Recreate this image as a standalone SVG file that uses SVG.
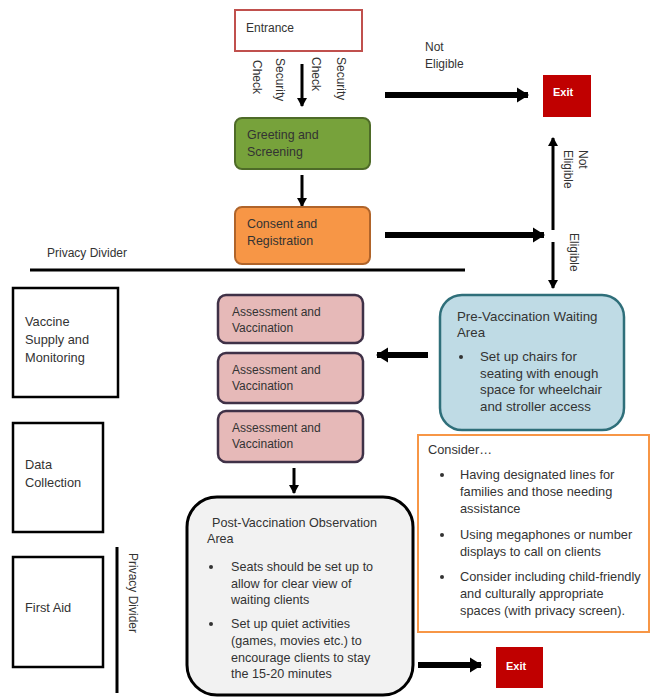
<svg xmlns="http://www.w3.org/2000/svg" width="650" height="698" viewBox="0 0 650 698">
<defs>
<style>
text{font-family:"Liberation Sans",Arial,sans-serif;font-size:12px;fill:#333}
.exitt{fill:#fff;font-size:11px;font-weight:bold}
.thick{stroke:#000;stroke-width:6;fill:none}
.thin{stroke:#000;stroke-width:3;fill:none}
.lb{fill:#fff;stroke:#000;stroke-width:2.5}
.av{fill:#e6b9b8;stroke:#3f3147;stroke-width:2.5}
#pre-vaccination text{font-size:13.3px}
#consider text{font-size:12.8px}
#post-vaccination text{font-size:12.6px}
#vaccine-supply text,#data-collection text,#first-aid text{font-size:12.8px}
#greeting text,#consent text{font-size:12.4px}
</style>
<marker id="hb" markerUnits="userSpaceOnUse" markerWidth="12" markerHeight="16" refX="11" refY="8" orient="auto">
<path d="M0,0.5 L12,8 L0,15.5 z" fill="#000"/>
</marker>
<marker id="hs" markerUnits="userSpaceOnUse" markerWidth="9" markerHeight="10" refX="8" refY="5" orient="auto">
<path d="M0,0 L9,5 L0,10 z" fill="#000"/>
</marker>
</defs>
<rect width="650" height="698" fill="#fff"/>

<g id="connectors">
<line class="thin" x1="302" y1="64" x2="302" y2="106" marker-end="url(#hs)"/>
<line class="thin" x1="302" y1="175" x2="302" y2="206" marker-end="url(#hs)"/>
<line class="thick" x1="385" y1="95" x2="528" y2="95" marker-end="url(#hb)"/>
<line class="thick" x1="385" y1="235" x2="544" y2="235" marker-end="url(#hb)"/>
<line class="thin" x1="553" y1="230" x2="553" y2="138" marker-end="url(#hs)"/>
<line class="thin" x1="553" y1="242" x2="553" y2="288" marker-end="url(#hs)"/>
<line class="thick" x1="428" y1="355" x2="377" y2="355" marker-end="url(#hb)"/>
<line class="thin" x1="294" y1="468" x2="294" y2="493" marker-end="url(#hs)"/>
<line class="thick" x1="418" y1="665" x2="481" y2="665" marker-end="url(#hb)"/>
<text transform="translate(253,60) rotate(90)">Check</text>
<text transform="translate(276,58) rotate(90)">Security</text>
<text transform="translate(312,57) rotate(90)">Check</text>
<text transform="translate(337,57) rotate(90)">Security</text>
<text x="425" y="51">Not</text>
<text x="425" y="68">Eligible</text>
<text transform="translate(579,150) rotate(90)">Not</text>
<text transform="translate(564,150) rotate(90)">Eligible</text>
<text transform="translate(570,233) rotate(90)">Eligible</text>
</g>

<g id="privacy-divider-h">
<line x1="30" y1="270" x2="465" y2="270" stroke="#000" stroke-width="3"/>
<text x="47" y="257">Privacy Divider</text>
</g>
<g id="privacy-divider-v">
<line x1="117" y1="547" x2="117" y2="693" stroke="#000" stroke-width="3"/>
<text transform="translate(129,553) rotate(90)">Privacy Divider</text>
</g>

<g id="entrance">
<rect x="235" y="10" width="127" height="41" fill="#fff" stroke="#c0504d" stroke-width="2"/>
<text x="246" y="32">Entrance</text>
</g>
<g id="exit-top">
<rect x="543" y="75" width="48" height="42" fill="#c00000"/>
<text class="exitt" x="553" y="96">Exit</text>
</g>
<g id="greeting">
<rect x="235" y="118" width="135" height="51" rx="7" fill="#77a23b" stroke="#4e6b28" stroke-width="2"/>
<text x="247" y="139">Greeting and</text>
<text x="247" y="156">Screening</text>
</g>
<g id="consent">
<rect x="235" y="207" width="135" height="57" rx="7" fill="#f79646" stroke="#b0642a" stroke-width="2"/>
<text x="247" y="228">Consent and</text>
<text x="247" y="245">Registration</text>
</g>

<g id="vaccine-supply">
<rect class="lb" x="13" y="288" width="105" height="109"/>
<text x="25" y="326">Vaccine</text>
<text x="25" y="344">Supply and</text>
<text x="25" y="362">Monitoring</text>
</g>
<g id="data-collection">
<rect class="lb" x="13" y="423" width="90" height="109"/>
<text x="25" y="469">Data</text>
<text x="25" y="487">Collection</text>
</g>
<g id="first-aid">
<rect class="lb" x="13" y="557" width="90" height="110"/>
<text x="25" y="612">First Aid</text>
</g>

<g id="av1">
<rect class="av" x="218" y="295" width="145" height="48" rx="8"/>
<text x="232" y="316">Assessment and</text>
<text x="232" y="332">Vaccination</text>
</g>
<g id="av2">
<rect class="av" x="218" y="353" width="145" height="50" rx="8"/>
<text x="232" y="374">Assessment and</text>
<text x="232" y="390">Vaccination</text>
</g>
<g id="av3">
<rect class="av" x="218" y="411" width="145" height="51" rx="8"/>
<text x="232" y="432">Assessment and</text>
<text x="232" y="448">Vaccination</text>
</g>

<g id="pre-vaccination">
<rect x="440" y="295" width="184" height="135" rx="22" fill="#bfdbe5" stroke="#2f6f7a" stroke-width="2.5"/>
<text x="457" y="321">Pre-Vaccination Waiting</text>
<text x="457" y="337">Area</text>
<circle cx="461" cy="357" r="2" fill="#333"/>
<text x="480" y="361">Set up chairs for</text>
<text x="480" y="378">seating with enough</text>
<text x="480" y="394">space for wheelchair</text>
<text x="480" y="411">and stroller access</text>
</g>

<g id="consider">
<rect x="418" y="435" width="231" height="197" fill="#fff" stroke="#f79646" stroke-width="2"/>
<text x="428" y="454">Consider…</text>
<circle cx="442" cy="475" r="2" fill="#333"/>
<text x="460" y="479">Having designated lines for</text>
<text x="460" y="496">families and those needing</text>
<text x="460" y="513">assistance</text>
<circle cx="442" cy="535" r="2" fill="#333"/>
<text x="460" y="539">Using megaphones or number</text>
<text x="460" y="556">displays to call on clients</text>
<circle cx="442" cy="577" r="2" fill="#333"/>
<text x="460" y="581">Consider including child-friendly</text>
<text x="460" y="598">and culturally appropriate</text>
<text x="460" y="615">spaces (with privacy screen).</text>
</g>

<g id="post-vaccination">
<rect x="187" y="497" width="226" height="198" rx="30" fill="#f2f2f2" stroke="#000" stroke-width="3"/>
<text x="212" y="527">Post-Vaccination Observation</text>
<text x="207" y="543">Area</text>
<circle cx="211" cy="567" r="2" fill="#333"/>
<text x="231" y="571">Seats should be set up to</text>
<text x="231" y="588">allow for clear view of</text>
<text x="231" y="604">waiting clients</text>
<circle cx="211" cy="624" r="2" fill="#333"/>
<text x="231" y="628">Set up quiet activities</text>
<text x="231" y="645">(games, movies etc.) to</text>
<text x="231" y="662">encourage clients to stay</text>
<text x="231" y="678">the 15-20 minutes</text>
</g>

<g id="exit-bottom">
<rect x="496" y="647" width="47" height="41" fill="#c00000"/>
<text class="exitt" x="506" y="670">Exit</text>
</g>
</svg>
